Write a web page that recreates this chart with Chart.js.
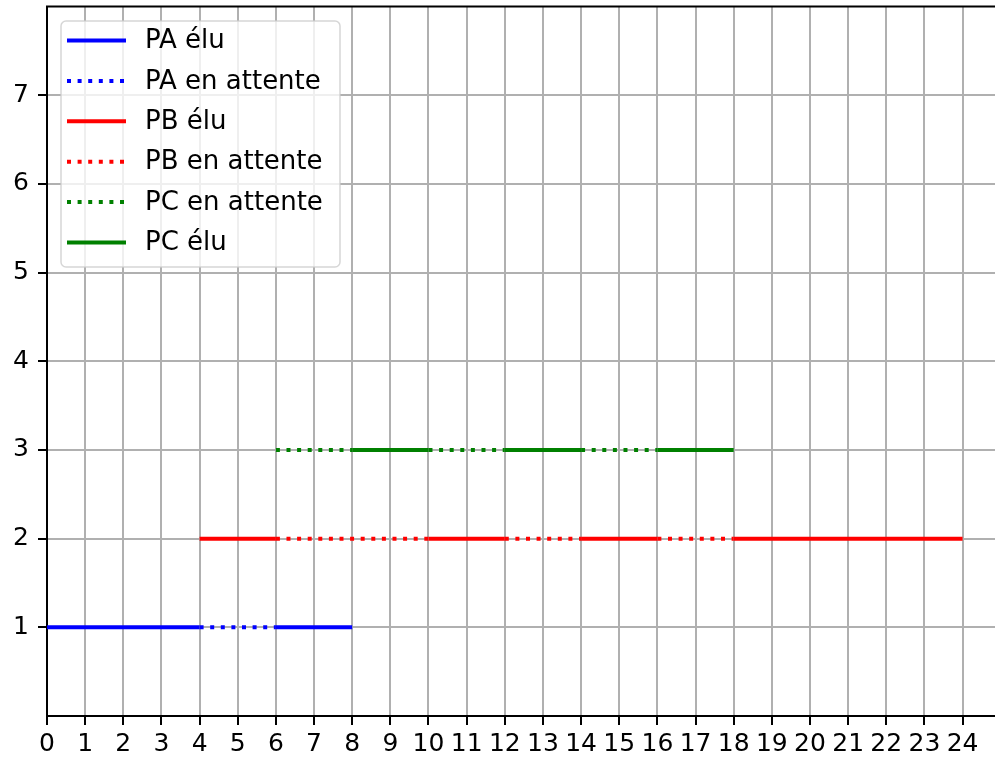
<!DOCTYPE html>
<html>
<head>
<meta charset="utf-8">
<script src="https://cdn.jsdelivr.net/npm/chart.js@4"></script>
<style>
  html, body { margin: 0; padding: 0; background: #fff; overflow: hidden; }
  #wrap { width: 995px; height: 762px; position: relative; }
</style>
</head>
<body>
<div id="wrap"><canvas id="chart"></canvas></div>
<script>
// segments [start, end] for each process state
var paElu = [[0, 4], [6, 8]];
var paAttente = [[4, 6]];
var pbElu = [[4, 6], [10, 12], [14, 16], [18, 24]];
var pbAttente = [[6, 10], [12, 14], [16, 18]];
var pcAttente = [[6, 8], [10, 12], [14, 16]];
var pcElu = [[8, 10], [12, 14], [16, 18]];

var levels = { PA: 1, PB: 2, PC: 3 };
var xTicks = [0, 1, 2, 3, 4, 5, 6, 7, 8, 9, 10, 11, 12, 13, 14, 15, 16, 17, 18, 19, 20, 21, 22, 23, 24];
var yTicks = [1, 2, 3, 4, 5, 6, 7];

var FONT = 'DejaVu Sans';
var DOTS = [4, 6.6];

function toPoints(segs, y) {
  var pts = [];
  segs.forEach(function (s) {
    pts.push({ x: s[0], y: y }, { x: s[1], y: y }, { x: s[1], y: null });
  });
  return pts;
}

function ds(label, segs, y, color, dotted) {
  return {
    label: label,
    data: toPoints(segs, y),
    borderColor: color,
    backgroundColor: color,
    borderWidth: 4,
    borderDash: dotted ? DOTS : [],
    borderCapStyle: 'butt',
    pointRadius: 0,
    spanGaps: false,
    tension: 0
  };
}

// matplotlib-like legend box + top spine
var mplDecor = {
  id: 'mplDecor',
  afterDraw: function (chart) {
    var c = chart.ctx, a = chart.chartArea;
    c.save();
    c.strokeStyle = '#000';
    c.lineWidth = 2;
    c.beginPath();
    c.moveTo(a.left - 1, a.top);
    c.lineTo(a.right, a.top);
    c.stroke();

    var x0 = 61, y0 = 21, w = 279, h = 246, r = 5;
    c.beginPath();
    c.moveTo(x0 + r, y0);
    c.arcTo(x0 + w, y0, x0 + w, y0 + h, r);
    c.arcTo(x0 + w, y0 + h, x0, y0 + h, r);
    c.arcTo(x0, y0 + h, x0, y0, r);
    c.arcTo(x0, y0, x0 + w, y0, r);
    c.closePath();
    c.fillStyle = 'rgba(255,255,255,0.8)';
    c.fill();
    c.strokeStyle = 'rgba(204,204,204,0.8)';
    c.lineWidth = 1.5;
    c.stroke();

    c.font = '26px "' + FONT + '"';
    c.textBaseline = 'middle';
    c.textAlign = 'left';
    chart.data.datasets.forEach(function (d, i) {
      var y = 40.5 + i * 40.4;
      c.strokeStyle = d.borderColor;
      c.lineWidth = 4;
      c.lineCap = 'butt';
      c.setLineDash(d.borderDash);
      c.beginPath();
      c.moveTo(67, y);
      c.lineTo(126, y);
      c.stroke();
      c.setLineDash([]);
      c.fillStyle = '#000';
      c.fillText(d.label, 145, y + 1);
    });
    c.restore();
  }
};

Chart.defaults.font.family = FONT;
Chart.defaults.color = '#000';

new Chart(document.getElementById('chart'), {
  type: 'line',
  data: {
    datasets: [
      ds('PA élu', paElu, levels.PA, '#0000ff', false),
      ds('PA en attente', paAttente, levels.PA, '#0000ff', true),
      ds('PB élu', pbElu, levels.PB, '#ff0000', false),
      ds('PB en attente', pbAttente, levels.PB, '#ff0000', true),
      ds('PC en attente', pcAttente, levels.PC, '#008000', true),
      ds('PC élu', pcElu, levels.PC, '#008000', false)
    ]
  },
  options: {
    responsive: true,
    maintainAspectRatio: false,
    animation: false,
    layout: { padding: { top: 6.5, right: 0, left: 0, bottom: 0 } },
    plugins: { legend: { display: false }, tooltip: { enabled: false } },
    scales: {
      x: {
        type: 'linear',
        min: 0,
        max: 24.85,
        afterBuildTicks: function (s) { s.ticks = xTicks.map(function (v) { return { value: v }; }); },
        afterFit: function (s) { s.height = 46; s.paddingLeft = 0; s.paddingRight = 0; },
        grid: { color: '#b0b0b0', lineWidth: 2, tickColor: '#000', tickWidth: 2, tickLength: 9 },
        border: { color: '#000', width: 2 },
        ticks: { font: { size: 25 }, padding: 4, maxRotation: 0, autoSkip: false }
      },
      y: {
        type: 'linear',
        min: 0,
        max: 8,
        afterBuildTicks: function (s) { s.ticks = yTicks.map(function (v) { return { value: v }; }); },
        afterFit: function (s) { s.width = 47; s.paddingTop = 0; s.paddingBottom = 0; },
        grid: { color: '#b0b0b0', lineWidth: 2, tickColor: '#000', tickWidth: 2, tickLength: 9 },
        border: { color: '#000', width: 2 },
        ticks: { font: { size: 25 }, padding: 9 }
      }
    }
  },
  plugins: [mplDecor]
});
</script>
</body>
</html>
